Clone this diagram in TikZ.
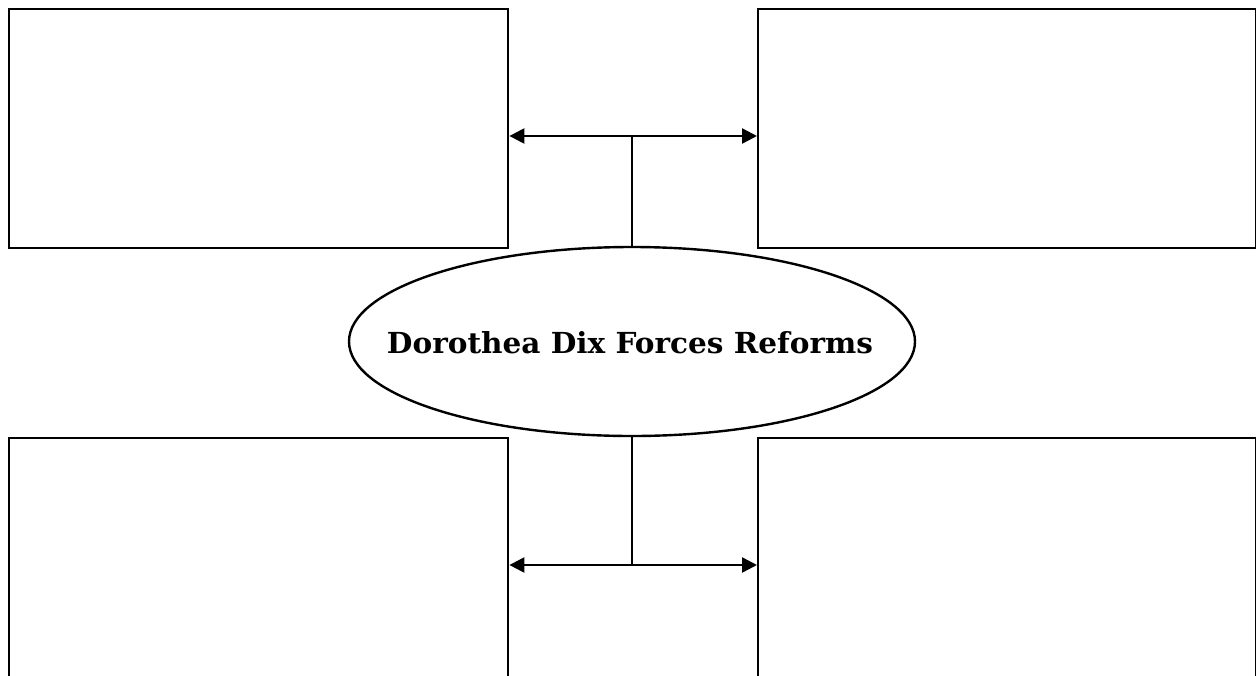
\documentclass[tikz,border=0pt]{standalone}
\usepackage{fontspec}
\setmainfont{DejaVu Serif}
\usetikzlibrary{arrows.meta,shapes.geometric}
\tikzset{
  boxline/.style={draw=black,line width=2.4pt},
  conn/.style={draw=black,line width=2.4pt},
  dblarrow/.style={conn,{Triangle[length=15pt,width=15pt]}-{Triangle[length=15pt,width=15pt]}},
}
\begin{document}
\begin{tikzpicture}[x=1pt,y=-1pt]
\useasboundingbox (0,0) rectangle (1256,675);
\clip (0,0) rectangle (1256,675);
\fill[white] (0,0) rectangle (1256,675);
% boxes
\node[boxline,rectangle,minimum width=499pt,minimum height=239pt,inner sep=0pt,anchor=north west] (tl) at (8,8) {};
\node[boxline,rectangle,minimum width=498pt,minimum height=239pt,inner sep=0pt,anchor=north west] (tr) at (757,8) {};
\node[boxline,rectangle,minimum width=499pt,minimum height=260pt,inner sep=0pt,anchor=north west] (bl) at (8,437) {};
\node[boxline,rectangle,minimum width=498pt,minimum height=260pt,inner sep=0pt,anchor=north west] (br) at (757,437) {};
% ellipse
\node[ellipse,draw=black,line width=2.4pt,minimum width=566pt,minimum height=189pt,inner sep=0pt] (c) at (632,341.5) {};
\node[inner sep=0pt,anchor=base] (t) at (630,353) {\resizebox{486pt}{22pt}{\bfseries Dorothea Dix Forces Reforms}};
% top connector
\coordinate (tj) at (632,136);
\draw[conn] (c.north) -- (tj);
\draw[dblarrow] (tl.east |- tj) -- (tr.west |- tj);
% bottom connector
\coordinate (bj) at (632,565);
\draw[conn] (c.south) -- (bj);
\draw[dblarrow] (bl.east |- bj) -- (br.west |- bj);
\end{tikzpicture}
\end{document}
